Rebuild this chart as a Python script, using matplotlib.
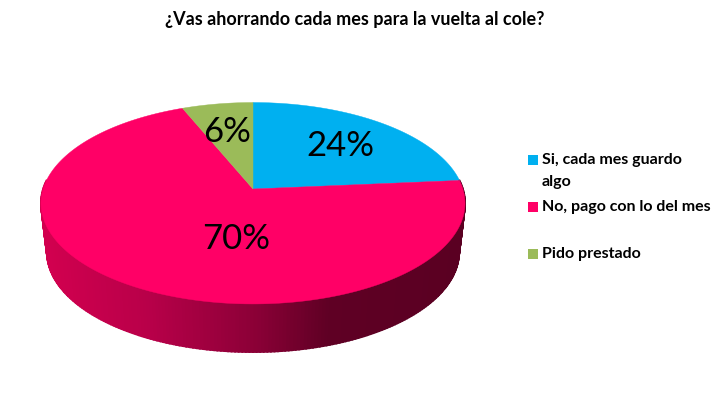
import numpy as np
import matplotlib
matplotlib.use("Agg")
import matplotlib.pyplot as plt
from matplotlib.colors import LinearSegmentedColormap
from matplotlib.patches import Rectangle

title = "¿Vas ahorrando cada mes para la vuelta al cole?"
categories = ["Si, cada mes guardo\nalgo", "No, pago con lo del mes", "Pido prestado"]
values = [23.6, 70.2, 6.2]
colors = ["#00B0F0", "#FF0066", "#9BBB59"]

W, H = 717, 395
fig = plt.figure(figsize=(W / 100, H / 100), dpi=100, facecolor="white")
ax = fig.add_axes([0, 0, 1, 1])
ax.set_xlim(0, W)
ax.set_ylim(H, 0)
ax.axis("off")
FONT = "Lato"

CX, K = 253.0, 0.1414


def project(theta, a, b, cy):
    """Perspective view of a disc; theta runs clockwise from the top."""
    u, v = np.sin(theta), np.cos(theta)
    d = 1 + K * v
    return CX + a * u / d, cy - b * v / d


# side wall, shaded from left to right
TOP = (209.9, 98.7, 189.0)
BOT = (204.0, 98.0, 237.9)
shade = LinearSegmentedColormap.from_list(
    "side",
    [(0.0, "#D2004F"), (0.25, "#B80049"), (0.5, "#8C0037"), (0.68, "#5F0024"), (1.0, "#5A0022")],
)
t = np.linspace(np.pi * 0.47, np.pi * 1.53, 221)
xt, yt = project(t, *TOP)
xb, yb = project(t, *BOT)
for i in range(len(t) - 1):
    xm = (xt[i] + xt[i + 1]) / 2
    c = shade((xm - 41.0) / 424.0)
    ax.fill([xt[i], xt[i + 1], xb[i + 1], xb[i]], [yt[i], yt[i + 1], yb[i + 1], yb[i]],
            color=c, lw=1.3, zorder=1)

# top face slices, clockwise from 12 o'clock
edges = np.concatenate([[0], np.cumsum(values)]) / np.sum(values) * 2 * np.pi
for start, end, col in zip(edges[:-1], edges[1:], colors):
    th = np.linspace(start, end, 200)
    x, y = project(th, *TOP)
    ax.fill(np.r_[CX, x], np.r_[TOP[2], y], color=col, lw=0.3, zorder=2)

# value labels
label_pos = [(340, 146), (236, 239), (227, 132)]
for val, (lx, ly) in zip(values, label_pos):
    ax.text(lx, ly, f"{val:.0f}%", fontsize=25, family=FONT, color="black",
            ha="center", va="center", zorder=3)

ax.text(354.5, 19, title, fontsize=13, family=FONT, fontweight="bold",
        ha="center", va="center", color="black")

# legend
legend_y = [160, 207, 254]
for cat, col, ly in zip(categories, colors, legend_y):
    ax.add_patch(Rectangle((528, ly - 5), 10, 10, color=col, lw=0))
    ax.text(542, ly - 7, cat, fontsize=11.5, family=FONT, fontweight="bold",
            ha="left", va="top", color="black", linespacing=1.75)

fig.savefig("out.png", dpi=100, facecolor="white")
